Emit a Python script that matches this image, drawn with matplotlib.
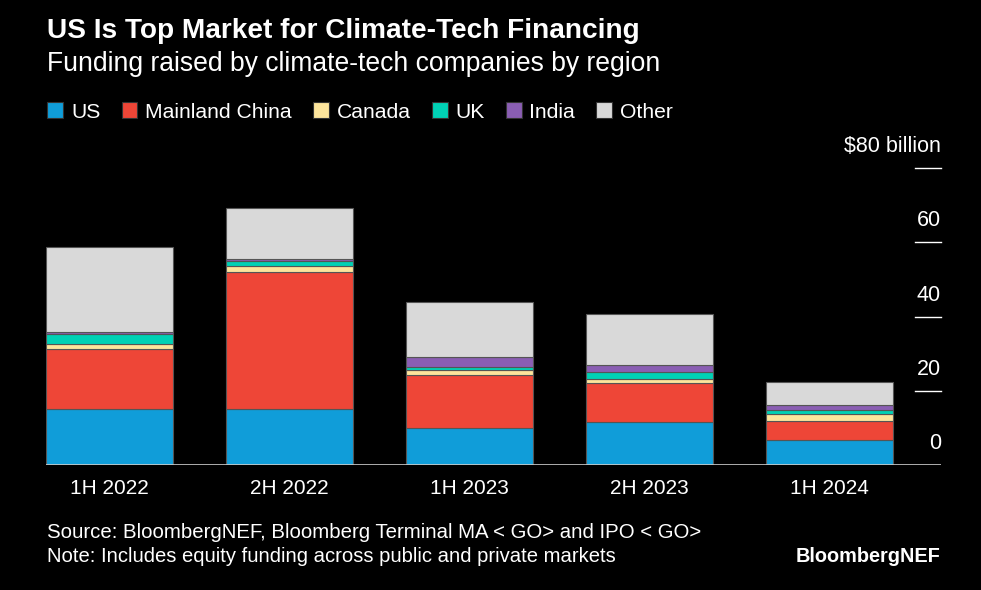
import matplotlib.pyplot as plt
import matplotlib.patches as mpatches
import numpy as np

plt.rcParams['font.family'] = ['Liberation Sans', 'DejaVu Sans']

# Dados (bilhoes de dolares)
periodos = ["1H 2022", "2H 2022", "1H 2023", "2H 2023", "1H 2024"]
regioes = ["US", "Mainland China", "Canada", "UK", "India", "Other"]
us = [15.1, 15.2, 9.9, 11.5, 6.7]
china = [16.1, 36.8, 14.5, 10.5, 5.1]
canada = [1.3, 1.6, 1.1, 1.3, 1.9]
uk = [2.7, 1.3, 1.0, 1.8, 1.2]
india = [0.6, 0.7, 2.6, 1.9, 1.2]
outros = [23.0, 13.8, 14.9, 13.7, 6.2]
cores = ["#109dd9", "#ee4637", "#fde59c", "#00d1b5", "#8a5eb3", "#d9d9d9"]
ticks_y = [0, 20, 40, 60, 80]
rotulos_y = ["0", "20", "40", "60", "$80 billion"]

series = [us, china, canada, uk, india, outros]

fig = plt.figure(figsize=(9.81, 5.90), dpi=100, facecolor="black")
ax = fig.add_axes([46 / 981, 1 - 465 / 590, 895 / 981, 296.7 / 590])
ax.set_facecolor("black")

x = np.arange(len(periodos))
base = np.zeros(len(periodos))
for valores, cor, nome in zip(series, cores, regioes):
    ax.bar(x, valores, bottom=base, width=0.705, color=cor,
           edgecolor="#555555", linewidth=0.8, label=nome)
    base += np.array(valores)

ax.set_xlim(-0.353, 4.62)
ax.set_ylim(0, 80)
for s in ax.spines.values():
    s.set_visible(False)
ax.set_yticks([])
ax.set_xticks(x)
ax.set_xticklabels(periodos, color="white", fontsize=15)
ax.tick_params(axis="x", length=0, pad=10)

# linha de base e marcas do eixo y a direita
ax.axhline(0, color="#cccccc", linewidth=1.2, zorder=3)
for v, r in zip(ticks_y, rotulos_y):
    if v > 0:
        ax.plot([0.971, 1.0], [v, v], transform=ax.get_yaxis_transform(),
                color="white", linewidth=1, clip_on=False)
    ax.annotate(r, xy=(1.0, v), xycoords=("axes fraction", "data"),
                xytext=(0, 15.5), textcoords="offset points",
                ha="right", va="center", color="white", fontsize=15.5)

# titulo
fig.text(47 / 981, 1 - 31 / 590, "US Is Top Market for Climate-Tech Financing",
         color="white", fontsize=20.2, fontweight="bold", va="center")
fig.text(47 / 981, 1 - 64 / 590, "Funding raised by climate-tech companies by region",
         color="white", fontsize=19.1, va="center")

# legenda
handles = [mpatches.Patch(facecolor=c, edgecolor="#333333", linewidth=0.8, label=n)
           for c, n in zip(cores, regioes)]
leg = fig.legend(handles=handles, loc="center left",
                 bbox_to_anchor=(39 / 981, 1 - 112 / 590), ncol=6, frameon=False,
                 fontsize=15.2, handlelength=0.75, handleheight=0.75,
                 handletextpad=0.37, columnspacing=1.0, borderaxespad=0)
for t in leg.get_texts():
    t.set_color("white")

# rodape
fig.text(47 / 981, 1 - 532 / 590,
         "Source: BloombergNEF, Bloomberg Terminal MA < GO> and IPO < GO>",
         color="white", fontsize=14.7, va="center")
fig.text(47 / 981, 1 - 557 / 590,
         "Note: Includes equity funding across public and private markets",
         color="white", fontsize=14.6, va="center")
fig.text(940 / 981, 1 - 556 / 590, "BloombergNEF", color="white",
         fontsize=14.3, fontweight="bold", ha="right", va="center")

fig.savefig("out.png", dpi=100, facecolor="black")
